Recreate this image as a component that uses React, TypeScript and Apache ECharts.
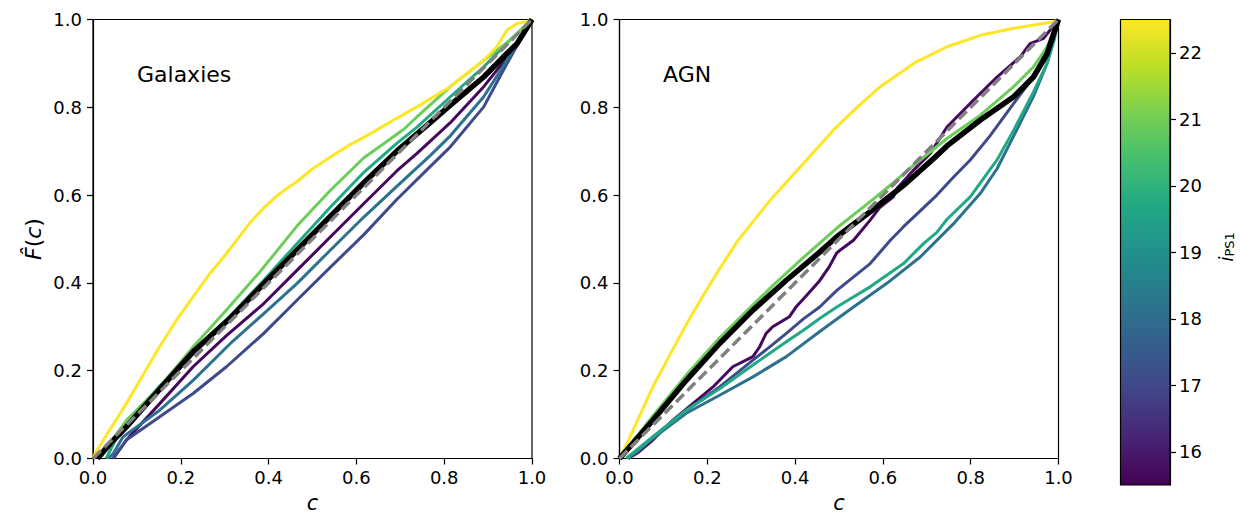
import React, { useEffect, useRef } from "react";
import * as echarts from "echarts";

// ---------- data ----------
const axisTicks = [0, 0.2, 0.4, 0.6, 0.8, 1.0];
const colorbarTicks = [16, 17, 18, 19, 20, 21, 22];
const colorbarMin = 15.5;
const colorbarMax = 22.5;
const diagonal = [[0, 0], [1, 1]];

// Galaxies panel
const galPurple = [[0.046, 0], [0.076, 0.042], [0.152, 0.125], [0.228, 0.209], [0.304, 0.28], [0.389, 0.353], [0.465, 0.429], [0.541, 0.505], [0.617, 0.581], [0.692, 0.655], [0.738, 0.695], [0.814, 0.765], [0.89, 0.847], [0.95, 0.922], [1, 1]];
const galBlue = [[0.045, 0], [0.053, 0.01], [0.076, 0.042], [0.152, 0.095], [0.228, 0.148], [0.304, 0.209], [0.389, 0.285], [0.465, 0.361], [0.541, 0.436], [0.617, 0.51], [0.692, 0.59], [0.768, 0.665], [0.814, 0.71], [0.89, 0.801], [0.935, 0.885], [0.973, 0.953], [1, 1]];
const galBlueTeal = [[0.035, 0], [0.046, 0.011], [0.068, 0.049], [0.152, 0.11], [0.228, 0.178], [0.313, 0.262], [0.389, 0.33], [0.465, 0.399], [0.541, 0.475], [0.617, 0.55], [0.692, 0.62], [0.768, 0.69], [0.814, 0.735], [0.89, 0.824], [0.943, 0.907], [1, 1]];
const galTealGreen = [[0.03, 0], [0.05, 0.04], [0.076, 0.08], [0.152, 0.165], [0.228, 0.245], [0.313, 0.325], [0.389, 0.406], [0.465, 0.49], [0.541, 0.573], [0.617, 0.652], [0.692, 0.718], [0.738, 0.755], [0.814, 0.824], [0.89, 0.892], [0.95, 0.953], [1, 1]];
const galGreen = [[0.02, 0.005], [0.038, 0.034], [0.076, 0.087], [0.152, 0.163], [0.228, 0.254], [0.304, 0.338], [0.38, 0.425], [0.465, 0.53], [0.541, 0.611], [0.617, 0.685], [0.662, 0.717], [0.708, 0.75], [0.738, 0.778], [0.814, 0.847], [0.89, 0.907], [0.95, 0.953], [1, 1]];
const galYellow = [[0, 0], [0.005, 0.012], [0.038, 0.065], [0.076, 0.125], [0.114, 0.19], [0.152, 0.255], [0.19, 0.315], [0.228, 0.368], [0.266, 0.421], [0.304, 0.467], [0.327, 0.497], [0.36, 0.54], [0.39, 0.572], [0.415, 0.595], [0.44, 0.614], [0.465, 0.631], [0.5, 0.66], [0.541, 0.687], [0.586, 0.715], [0.632, 0.74], [0.685, 0.771], [0.738, 0.801], [0.776, 0.824], [0.814, 0.847], [0.852, 0.877], [0.89, 0.907], [0.92, 0.938], [0.943, 0.976], [0.966, 0.991], [0.989, 0.995], [1, 1]];
const galBlack = [[0.01, 0], [0.04, 0.035], [0.076, 0.072], [0.152, 0.158], [0.228, 0.243], [0.313, 0.32], [0.389, 0.398], [0.465, 0.475], [0.541, 0.552], [0.617, 0.628], [0.692, 0.7], [0.768, 0.765], [0.814, 0.805], [0.89, 0.869], [0.935, 0.915], [0.966, 0.945], [0.992, 0.987], [1, 1]];

// AGN panel
const agnPurple = [[0.02, 0], [0.04, 0.012], [0.076, 0.042], [0.121, 0.087], [0.167, 0.125], [0.213, 0.163], [0.258, 0.209], [0.304, 0.232], [0.319, 0.254], [0.334, 0.285], [0.349, 0.3], [0.387, 0.323], [0.402, 0.345], [0.425, 0.37], [0.456, 0.405], [0.478, 0.437], [0.494, 0.467], [0.503, 0.475], [0.533, 0.497], [0.571, 0.543], [0.594, 0.573], [0.624, 0.596], [0.632, 0.615], [0.67, 0.657], [0.708, 0.695], [0.746, 0.755], [0.806, 0.816], [0.86, 0.869], [0.913, 0.915], [0.935, 0.945], [0.966, 0.957], [0.981, 0.976], [1, 1]];
const agnBlue = [[0.02, 0], [0.03, 0.011], [0.076, 0.049], [0.152, 0.11], [0.228, 0.163], [0.304, 0.224], [0.343, 0.255], [0.38, 0.285], [0.419, 0.318], [0.456, 0.345], [0.495, 0.383], [0.571, 0.444], [0.617, 0.497], [0.647, 0.528], [0.67, 0.55], [0.723, 0.6], [0.76, 0.64], [0.799, 0.68], [0.844, 0.735], [0.898, 0.809], [0.943, 0.869], [0.974, 0.922], [1, 1]];
const agnBlueTeal = [[0.02, 0], [0.04, 0.015], [0.076, 0.046], [0.152, 0.103], [0.228, 0.144], [0.304, 0.186], [0.38, 0.232], [0.457, 0.29], [0.533, 0.345], [0.609, 0.399], [0.685, 0.459], [0.761, 0.535], [0.822, 0.604], [0.86, 0.66], [0.898, 0.735], [0.943, 0.825], [0.974, 0.9], [0.99, 0.953], [1, 1]];
const agnTealGreen = [[0.015, 0], [0.03, 0.012], [0.076, 0.049], [0.152, 0.11], [0.228, 0.159], [0.304, 0.213], [0.38, 0.266], [0.419, 0.292], [0.456, 0.319], [0.495, 0.345], [0.571, 0.391], [0.647, 0.444], [0.693, 0.49], [0.723, 0.515], [0.746, 0.545], [0.799, 0.596], [0.822, 0.628], [0.86, 0.68], [0.898, 0.748], [0.943, 0.835], [0.974, 0.9], [0.989, 0.953], [1, 1]];
const agnGreen = [[0, 0], [0.076, 0.097], [0.152, 0.19], [0.228, 0.275], [0.304, 0.35], [0.343, 0.388], [0.419, 0.458], [0.495, 0.525], [0.571, 0.585], [0.632, 0.635], [0.67, 0.668], [0.746, 0.729], [0.822, 0.782], [0.898, 0.847], [0.943, 0.892], [0.974, 0.938], [1, 1]];
const agnYellow = [[0, 0], [0.02, 0.04], [0.076, 0.163], [0.114, 0.235], [0.152, 0.305], [0.19, 0.37], [0.228, 0.432], [0.27, 0.497], [0.343, 0.588], [0.419, 0.672], [0.487, 0.748], [0.541, 0.8], [0.594, 0.847], [0.67, 0.9], [0.746, 0.938], [0.822, 0.964], [0.898, 0.98], [0.989, 0.995], [1, 1]];
const agnBlack = [[0, 0], [0.076, 0.087], [0.152, 0.178], [0.228, 0.262], [0.304, 0.338], [0.38, 0.406], [0.456, 0.47], [0.495, 0.505], [0.571, 0.562], [0.647, 0.622], [0.723, 0.69], [0.746, 0.712], [0.822, 0.771], [0.898, 0.824], [0.943, 0.869], [0.974, 0.922], [0.989, 0.968], [1, 1]];

// ---------- styles ----------
const FONT = "DejaVu Sans";
const C_PURPLE = "#46085c";
const C_BLUE = "#3e4a89";
const C_BLUETEAL = "#2c728e";
const C_TEALGREEN = "#22a884";
const C_GREEN = "#6ccd5a";
const C_YELLOW = "#fde725";

const viridisStops = [
  { offset: 0, color: "#440154" },
  { offset: 0.1, color: "#482475" },
  { offset: 0.2, color: "#414487" },
  { offset: 0.3, color: "#355f8d" },
  { offset: 0.4, color: "#2a788e" },
  { offset: 0.5, color: "#21918c" },
  { offset: 0.6, color: "#22a884" },
  { offset: 0.7, color: "#44bf70" },
  { offset: 0.8, color: "#7ad151" },
  { offset: 0.9, color: "#bddf26" },
  { offset: 1, color: "#fde725" },
];

const PANEL_TOP = 19.5;
const PANEL_SIZE = 439;
const LEFT1 = 93;
const LEFT2 = 619.5;
const CB_LEFT = 1120.5;
const CB_WIDTH = 49.5;
const CB_HEIGHT = 465.5;

function line(name: string, data: number[][], color: string, idx: number, width: number, z: number, dashed = false) {
  return {
    name,
    type: "line",
    xAxisIndex: idx,
    yAxisIndex: idx,
    data,
    symbol: "none",
    smooth: false,
    z,
    lineStyle: { color, width, type: dashed ? [11, 5] : "solid", cap: "butt", join: "round" },
    emphasis: { disabled: true },
  };
}

function xAxisCfg(idx: number) {
  return {
    gridIndex: idx,
    type: "value",
    min: 0,
    max: 1,
    interval: 0.2,
    axisLine: { show: true, onZero: false, lineStyle: { color: "#000", width: 1.2 } },
    axisTick: { show: true, length: 6, lineStyle: { color: "#000", width: 1.2 } },
    axisLabel: { formatter: (v: number) => v.toFixed(1), fontSize: 18, color: "#000", margin: 10, fontFamily: FONT, showMinLabel: true, showMaxLabel: true },
    splitLine: { show: false },
    name: "c",
    nameLocation: "middle",
    nameGap: 36,
    nameTextStyle: { fontSize: 21, lineHeight: 16, fontStyle: "italic", fontFamily: FONT, color: "#000" },
  };
}

function yAxisCfg(idx: number, withName: boolean) {
  const cfg: any = {
    gridIndex: idx,
    type: "value",
    min: 0,
    max: 1,
    interval: 0.2,
    axisLine: { show: true, onZero: false, lineStyle: { color: "#000", width: 1.2 } },
    axisTick: { show: true, length: 6, lineStyle: { color: "#000", width: 1.2 } },
    axisLabel: { formatter: (v: number) => v.toFixed(1), fontSize: 18, color: "#000", margin: 11, fontFamily: FONT, showMinLabel: true, showMaxLabel: true },
    splitLine: { show: false },
  };
  if (withName) {
    cfg.name = "{i|F\u0302}({i|c})";
    cfg.nameLocation = "middle";
    cfg.nameRotate = 90;
    cfg.nameGap = 49;
    cfg.nameTextStyle = {
      fontSize: 22,
      fontFamily: FONT,
      color: "#000",
      rich: { i: { fontSize: 22, fontStyle: "italic", fontFamily: FONT, color: "#000" } },
    };
  }
  return cfg;
}

export default function App() {
  const ref = useRef<HTMLDivElement>(null);
  useEffect(() => {
    if (!ref.current) return;
    const chart = echarts.init(ref.current, null, { renderer: "svg" });
    const option: any = {
      animation: false,
      backgroundColor: "#fff",
      textStyle: { fontFamily: FONT },
      grid: [
        { left: LEFT1, top: PANEL_TOP, width: PANEL_SIZE, height: PANEL_SIZE, show: true, borderColor: "#000", borderWidth: 1.2, containLabel: false, outerBoundsMode: "none" },
        { left: LEFT2, top: PANEL_TOP, width: PANEL_SIZE, height: PANEL_SIZE, show: true, borderColor: "#000", borderWidth: 1.2, containLabel: false, outerBoundsMode: "none" },
        { left: CB_LEFT, top: PANEL_TOP, width: CB_WIDTH, height: CB_HEIGHT, show: false, containLabel: false, outerBoundsMode: "none" },
      ],
      xAxis: [
        xAxisCfg(0),
        xAxisCfg(1),
        { gridIndex: 2, type: "value", min: 0, max: 1, show: false },
      ],
      yAxis: [
        yAxisCfg(0, true),
        yAxisCfg(1, false),
        {
          gridIndex: 2,
          type: "value",
          min: colorbarMin,
          max: colorbarMax,
          position: "right",
          axisLine: { show: true, onZero: false, lineStyle: { color: "#000", width: 1.2 } },
          axisTick: { show: true, length: 6, customValues: colorbarTicks, lineStyle: { color: "#000", width: 1.2 } },
          axisLabel: { customValues: colorbarTicks, fontSize: 18, color: "#000", margin: 9, fontFamily: FONT },
          splitLine: { show: false },
        },
      ],
      series: [
        line("gal 15.7", galPurple, C_PURPLE, 0, 3, 2),
        line("gal 17", galBlue, C_BLUE, 0, 3, 2),
        line("gal 18.3", galBlueTeal, C_BLUETEAL, 0, 3, 2),
        line("gal 19.7", galTealGreen, C_TEALGREEN, 0, 3, 2),
        line("gal 21", galGreen, C_GREEN, 0, 3, 2),
        line("gal 22.4", galYellow, C_YELLOW, 0, 3, 2),
        line("gal all", galBlack, "#000", 0, 5.5, 3),
        line("gal diag", diagonal, "#808080", 0, 3.5, 4, true),
        line("agn 15.7", agnPurple, C_PURPLE, 1, 3, 2),
        line("agn 17", agnBlue, C_BLUE, 1, 3, 2),
        line("agn 18.3", agnBlueTeal, C_BLUETEAL, 1, 3, 2),
        line("agn 19.7", agnTealGreen, C_TEALGREEN, 1, 3, 2),
        line("agn 21", agnGreen, C_GREEN, 1, 3, 2),
        line("agn 22.4", agnYellow, C_YELLOW, 1, 3, 2),
        line("agn all", agnBlack, "#000", 1, 5.5, 3),
        line("agn diag", diagonal, "#808080", 1, 3.5, 4, true),
      ],
      graphic: [
        {
          type: "rect",
          z: 0,
          shape: { x: CB_LEFT, y: PANEL_TOP, width: CB_WIDTH, height: CB_HEIGHT },
          style: { fill: new echarts.graphic.LinearGradient(0, 1, 0, 0, viridisStops), stroke: "#000", lineWidth: 1.2 },
        },
        {
          type: "text",
          x: 137,
          y: 74,
          style: { text: "Galaxies", fontSize: 22, fontFamily: FONT, fill: "#000", align: "left", verticalAlign: "middle" },
        },
        {
          type: "text",
          x: 663,
          y: 74,
          style: { text: "AGN", fontSize: 22, fontFamily: FONT, fill: "#000", align: "left", verticalAlign: "middle" },
        },
        {
          type: "text",
          x: 1226,
          y: 247,
          rotation: Math.PI / 2,
          style: {
            text: "{i|i}{s|PS1}",
            align: "center",
            verticalAlign: "middle",
            fill: "#000",
            rich: {
              i: { fontSize: 19, fontStyle: "italic", fontFamily: FONT, fill: "#000", verticalAlign: "top", lineHeight: 20 },
              s: { fontSize: 13, fontFamily: FONT, fill: "#000", verticalAlign: "top", lineHeight: 13, padding: [7, 0, 0, 0] },
            },
          },
        },
      ],
    };
    chart.setOption(option);
    return () => chart.dispose();
  }, []);
  return <div ref={ref} style={{ position: "fixed", left: 0, top: 0, width: 1240, height: 517, background: "#fff" }} />;
}
